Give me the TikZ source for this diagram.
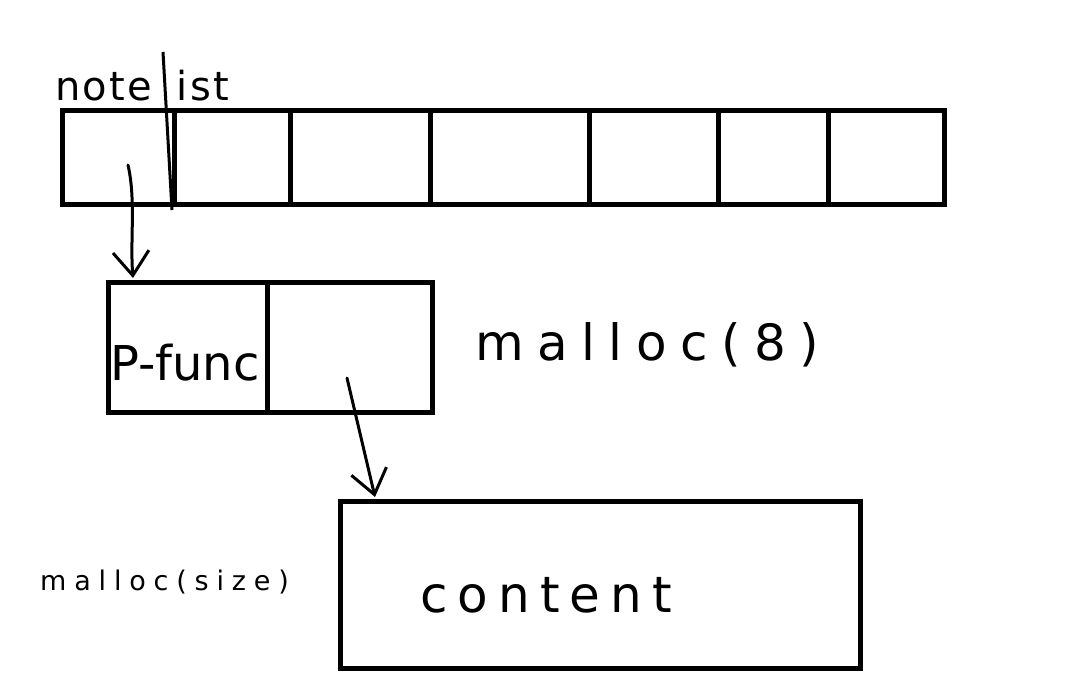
\documentclass[tikz,border=0pt]{standalone}
\usepackage{fontspec}
\setmainfont{DejaVu Sans}
\usetikzlibrary{arrows.meta}
\tikzset{
  cellbox/.style={draw=black,line width=5pt,minimum width=#1,minimum height=94pt,inner sep=0pt,anchor=north west},
  hand/.style={font=\fontsize{#1}{#1}\selectfont,inner sep=0pt},
  ptr/.style={line width=3pt,line cap=round,-{Straight Barb[length=24pt,width=36pt,line width=3pt]}}
}
\begin{document}
\begin{tikzpicture}[x=1pt,y=-1pt]
\useasboundingbox[fill=white] (0,0) rectangle (1069,683);
% notelist array
\node[cellbox=112pt] (c1) at (60,108) {};
\node[cellbox=116pt] (c2) at (172,108) {};
\node[cellbox=140pt] (c3) at (288,108) {};
\node[cellbox=159pt] (c4) at (428,108) {};
\node[cellbox=129pt] (c5) at (587,108) {};
\node[cellbox=110pt] (c6) at (716,108) {};
\node[cellbox=116pt] (c7) at (826,108) {};
\coordinate (ltop) at (163,52);
\coordinate (lbot) at (172,210);
\draw[line width=3pt] (ltop) -- (lbot);
\node[hand=40pt,anchor=base west] (lbl) at (55,100) {\addfontfeatures{LetterSpace=6}note\hspace{24pt}ist};
% second structure
\node[cellbox=159pt,minimum height=130pt] (pf) at (106,280) {};
\node[cellbox=165pt,minimum height=130pt] (pd) at (265,280) {};
\node[hand=48pt,anchor=base] (pft) at (185,380) {P-func};
\node[hand=50pt,anchor=base west] (m8) at (475,360) {\addfontfeatures{LetterSpace=27}malloc(8)};
% content
\node[cellbox=520pt,minimum height=167pt] (ct) at (338,499) {};
\node[hand=50pt,anchor=base west] (ctt) at (420,612) {\addfontfeatures{LetterSpace=20}content};
\node[hand=27pt,anchor=base west] (ms) at (40,590) {\addfontfeatures{LetterSpace=29}malloc(size)};
% pointers
\coordinate (s1) at (128,165);
\coordinate (e1) at (133,278);
\draw[ptr] (s1) .. controls (136,200) and (130,240) .. (e1);
\coordinate (s2) at (347,378);
\coordinate (e2) at (375,497);
\draw[ptr] (s2) -- (e2);
\end{tikzpicture}
\end{document}
